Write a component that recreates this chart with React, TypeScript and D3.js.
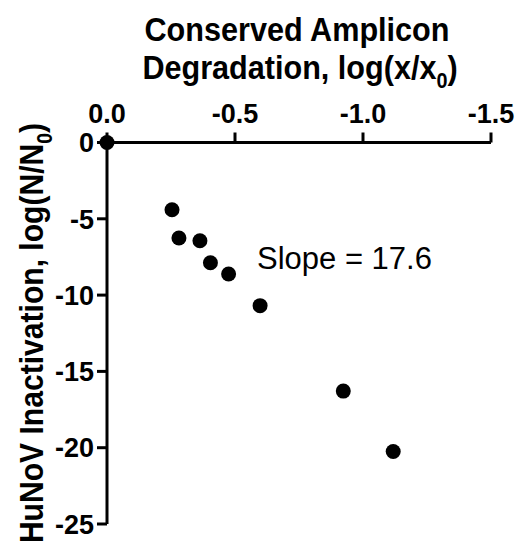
import React from "react";
import * as d3 from "d3";

const xValues = [0, -0.254, -0.281, -0.363, -0.404, -0.475, -0.598, -0.923, -1.118];
const yValues = [0, -4.41, -6.26, -6.44, -7.88, -8.62, -10.69, -16.29, -20.25];
const xTicks = [0, -0.5, -1.0, -1.5];
const yTicks = [0, -5, -10, -15, -20, -25];
const slopeLabel = "Slope = 17.6";

const W = 517;
const H = 548;
const FONT = "'Liberation Sans', Arial, Helvetica, sans-serif";

export default function App() {
  const x = d3.scaleLinear().domain([0, -1.5]).range([107, 491]);
  const y = d3.scaleLinear().domain([0, -25]).range([142.5, 524]);
  const axisY = y(0);
  const axisX = x(0);
  const tickLen = 10;
  const fmtX = (v: number) => (v === 0 ? "0.0" : d3.format(".1f")(v).replace("−", "-"));
  const fmtY = (v: number) => String(v);
  const cx = (x.range()[0] + x.range()[1]) / 2;

  return (
    <svg
      width={W}
      height={H}
      style={{ position: "absolute", left: 0, top: 0, background: "#fff" }}
      fontFamily={FONT}
    >
      {/* X title */}
      <text x={cx - 2} y={41} textAnchor="middle" fontSize={34} fontWeight="bold" textLength={305} lengthAdjust="spacingAndGlyphs">
        Conserved Amplicon
      </text>
      <g transform={`translate(${cx + 1},79) scale(0.9,1)`}>
        <text x={0} y={0} textAnchor="middle" fontSize={34} fontWeight="bold">
          Degradation, log(x/x
          <tspan fontSize={22} dy={9}>0</tspan>
          <tspan dy={-9}>)</tspan>
        </text>
      </g>

      {/* X axis */}
      <line x1={x(0)} x2={x(-1.5)} y1={axisY} y2={axisY} stroke="#000" strokeWidth={3} />
      {xTicks.map((t) => (
        <g key={"xt" + t}>
          <line x1={x(t)} x2={x(t)} y1={axisY} y2={axisY - tickLen} stroke="#000" strokeWidth={3} />
          <text x={x(t)} y={axisY - tickLen - 10} textAnchor="middle" fontSize={27} fontWeight="bold">
            {fmtX(t)}
          </text>
        </g>
      ))}

      {/* Y axis */}
      <line x1={axisX} x2={axisX} y1={y(0)} y2={y(-25)} stroke="#000" strokeWidth={3} />
      {yTicks.map((t) => (
        <g key={"yt" + t}>
          <line x1={axisX} x2={axisX - tickLen} y1={y(t)} y2={y(t)} stroke="#000" strokeWidth={3} />
          <text
            x={axisX - tickLen - 3}
            y={y(t)}
            dy="0.36em"
            textAnchor="end"
            fontSize={27}
            fontWeight="bold"
          >
            {fmtY(t)}
          </text>
        </g>
      ))}

      {/* Y title */}
      <g transform={`translate(43, 333) rotate(-90) scale(0.885,1)`}>
        <text x={0} y={0} textAnchor="middle" fontSize={34} fontWeight="bold">
          HuNoV Inactivation, log(N/N
          <tspan fontSize={22} dy={9}>0</tspan>
          <tspan dy={-9}>)</tspan>
        </text>
      </g>

      {/* Points */}
      {xValues.map((v, i) => (
        <circle key={"p" + i} cx={x(v)} cy={y(yValues[i])} r={7.5} fill="#000" />
      ))}

      {/* Annotation */}
      <text x={257} y={269} fontSize={31}>
        {slopeLabel}
      </text>
    </svg>
  );
}
